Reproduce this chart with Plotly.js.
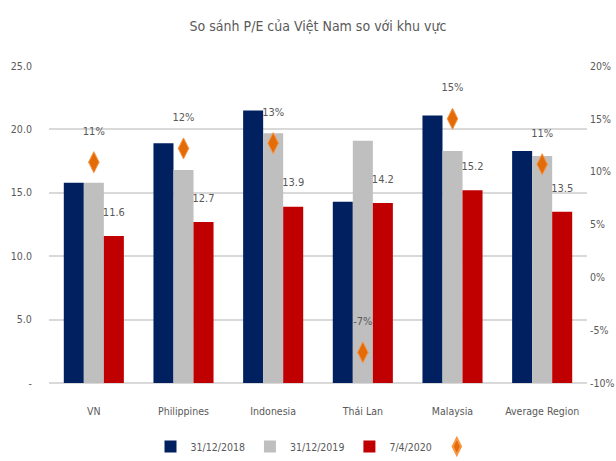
<!DOCTYPE html>
<html>
<head>
<meta charset="utf-8">
<script src="https://cdn.plot.ly/plotly-3.0.1.min.js"></script>
<style>
  body { margin: 0; background: white; }
  #chart { width: 616px; height: 461px; }
</style>
</head>
<body>
<div id="chart"></div>
<script>
var categories = ['VN', 'Philippines', 'Indonesia', 'Thái Lan', 'Malaysia', 'Average Region'];
var pe2018 = [15.8, 18.9, 21.5, 14.3, 21.1, 18.3];
var pe2019 = [15.8, 16.8, 19.7, 19.1, 18.3, 17.9];
var pe2020 = [11.6, 12.7, 13.9, 14.2, 15.2, 13.5];
var change = [0.109, 0.122, 0.127, -0.071, 0.15, 0.107];

var leftTicks = [0, 5, 10, 15, 20, 25];
var leftLabels = ['-', '5.0', '10.0', '15.0', '20.0', '25.0'];
var rightTicks = [-0.1, -0.05, 0, 0.05, 0.1, 0.15, 0.2];
var rightLabels = ['-10%', '-5%', '0%', '5%', '10%', '15%', '20%'];

var fontName = '"DejaVu Sans Condensed", "Liberation Sans Narrow", sans-serif';
var grey = '#595959';

var trace1 = {
  x: categories,
  y: pe2018,
  name: '31/12/2018',
  type: 'bar',
  marker: { color: '#002060' },
  hoverinfo: 'y'
};

var trace2 = {
  x: categories,
  y: pe2019,
  name: '31/12/2019',
  type: 'bar',
  marker: { color: '#BFBFBF' },
  hoverinfo: 'y'
};

var trace3 = {
  x: categories,
  y: pe2020,
  name: '7/4/2020',
  type: 'bar',
  marker: { color: '#C00000' },
  texttemplate: '%{y:.1f}<br> ',
  textposition: 'outside',
  constraintext: 'none',
  cliponaxis: false,
  textfont: { family: fontName, size: 11, color: grey },
  hoverinfo: 'y'
};

var trace4 = {
  x: categories,
  y: change,
  name: ' ',
  type: 'scatter',
  mode: 'markers+text',
  yaxis: 'y2',
  marker: { symbol: 'diamond-tall', size: 15, color: '#E36C09', line: { color: '#F79646', width: 1 } },
  texttemplate: '%{y:.0%}<br> ',
  textposition: 'top center',
  textfont: { family: fontName, size: 11, color: grey },
  cliponaxis: false
};

var layout = {
  width: 616,
  height: 461,
  title: {
    text: 'So sánh P/E của Việt Nam so với khu vực',
    font: { family: fontName, size: 14, color: grey },
    xref: 'paper',
    x: 0.5,
    y: 0.955
  },
  font: { family: fontName, color: grey, size: 11 },
  plot_bgcolor: 'white',
  paper_bgcolor: 'white',
  barmode: 'group',
  bargap: 0.33,
  bargroupgap: 0,
  margin: { l: 49, r: 29, t: 66, b: 78, autoexpand: false },
  xaxis: {
    ticks: 'outside',
    ticklen: 18,
    tickcolor: 'rgba(0,0,0,0)',
    tickfont: { family: fontName, size: 10.5, color: grey },
    showline: false
  },
  yaxis: {
    range: [0, 25],
    tickvals: leftTicks,
    ticktext: leftLabels,
    gridcolor: '#D9D9D9',
    gridwidth: 1.5,
    zeroline: true,
    zerolinecolor: '#D9D9D9',
    zerolinewidth: 1.5,
    ticks: 'outside',
    ticklen: 14,
    tickcolor: 'rgba(0,0,0,0)',
    tickfont: { family: fontName, size: 10.5, color: grey }
  },
  yaxis2: {
    overlaying: 'y',
    side: 'right',
    range: [-0.1, 0.2],
    tickvals: rightTicks,
    ticktext: rightLabels,
    showgrid: false,
    zeroline: false,
    ticklabelstandoff: 2,
    tickfont: { family: fontName, size: 10.5, color: grey }
  },
  showlegend: true,
  legend: {
    orientation: 'h',
    xref: 'paper',
    x: 0.5,
    xanchor: 'center',
    yref: 'container',
    y: 0,
    yanchor: 'bottom',
    itemsizing: 'constant',
    font: { family: fontName, size: 10.5, color: grey },
    itemwidth: 30,
    tracegroupgap: 0
  }
};

Plotly.newPlot('chart', [trace1, trace2, trace3, trace4], layout, { displayModeBar: false });
</script>
</body>
</html>
